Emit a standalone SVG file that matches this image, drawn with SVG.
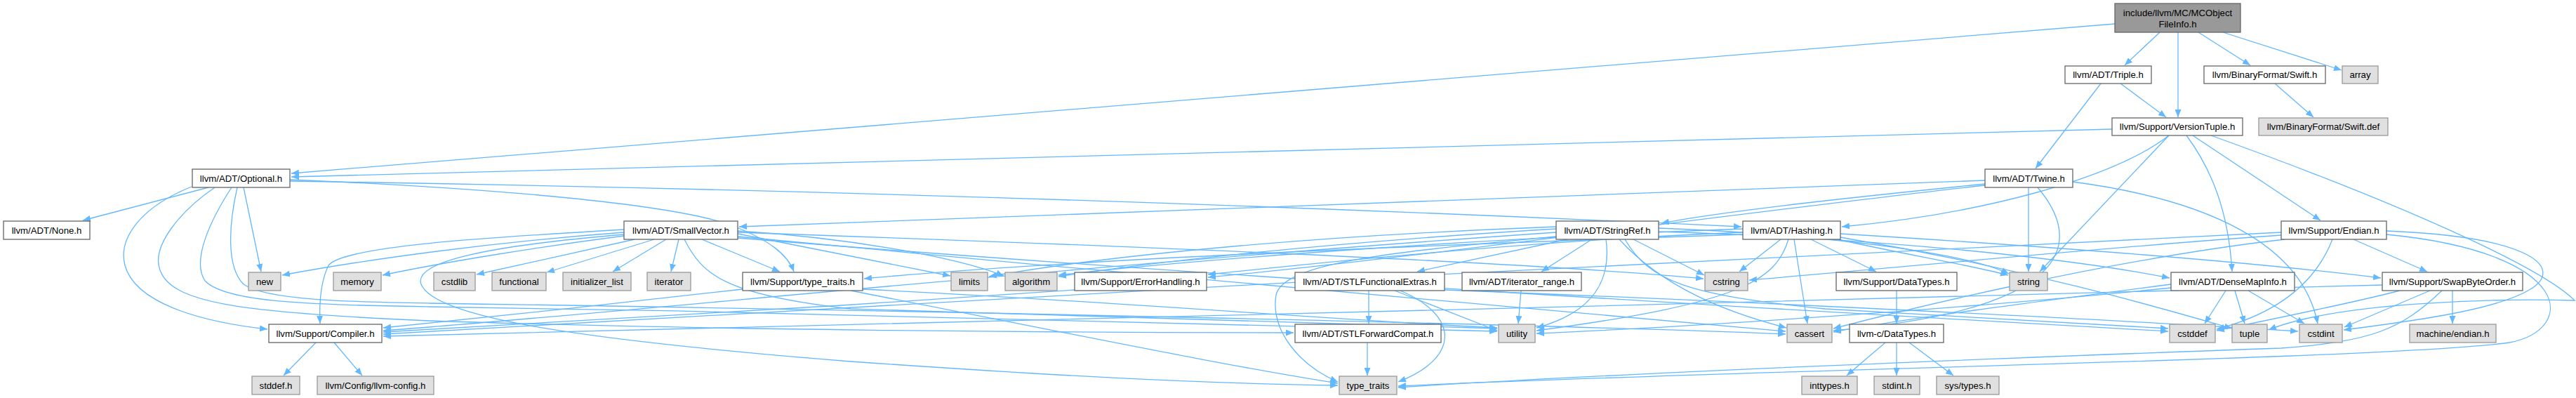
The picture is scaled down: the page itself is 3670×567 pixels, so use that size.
<svg xmlns="http://www.w3.org/2000/svg" width="3670" height="567" viewBox="0 0 3670 567">
<defs>
<style>
.n{fill:#ffffff;stroke:#666666;stroke-width:1.3}
.g{fill:#e0e0e0;stroke:#999999;stroke-width:1.3}
.r{fill:#999999;stroke:#666666;stroke-width:1.3}
text{font-family:"Liberation Sans",Arial,sans-serif;font-size:13.2px;fill:#000;text-anchor:middle}
#edges path{fill:none;stroke:#63b8ff;stroke-width:1.3;marker-end:url(#ah)}
</style>
<marker id="ah" markerWidth="12" markerHeight="9" refX="11" refY="4.5" orient="auto" markerUnits="userSpaceOnUse">
<path d="M0,0 L11,4.5 L0,9 z" fill="#63b8ff"/>
</marker>
</defs>
<rect width="3670" height="567" fill="#ffffff"/>
<g id="edges">
<path d="M3013,34 L415,247"/>
<path d="M3077,46 L3027,93"/>
<path d="M3103,46 L3103,167"/>
<path d="M3132,46 L3206,93"/>
<path d="M3167,46 L3336,100"/>
<path d="M3021,119 L3086,167"/>
<path d="M2993,119 L2900,240"/>
<path d="M3241,119 L3296,167"/>
<path d="M3009,184 L415,252"/>
<path d="M3090,193 C3010,255 2820,305 2624,323"/>
<path d="M3090,193 L2906,387"/>
<path d="M3115,193 C3150,240 3175,300 3180,387"/>
<path d="M3124,193 L3306,314"/>
<path d="M3150,193 C3420,290 3620,380 3668,428 C3560,425 3330,430 3232,470"/>
<path d="M297,267 L118,314"/>
<path d="M273,266 C200,295 168,340 178,378 C192,430 280,458 381,469"/>
<path d="M306,267 C258,300 215,350 228,385 C245,430 330,445 612,457 C1000,470 1500,474 1843,474"/>
<path d="M330,267 C302,310 272,370 292,400 C322,432 450,434 612,437 C1200,446 1900,462 2133,472"/>
<path d="M338,267 C326,320 322,380 347,405 C380,428 500,430 612,432 C1300,442 2200,462 2544,476"/>
<path d="M347,267 L372,387"/>
<path d="M413,256 C700,268 960,290 1045,322 C1095,342 1122,362 1131,387"/>
<path d="M413,258 C1200,270 1900,296 2481,323"/>
<path d="M2828,257 C2100,280 1500,305 1053,323"/>
<path d="M2828,262 C2650,280 2460,300 2367,318"/>
<path d="M2828,264 C2500,300 2000,370 1721,395"/>
<path d="M2903,267 C2965,340 2965,440 2612,471"/>
<path d="M2890,267 L2890,387"/>
<path d="M2953,259 C3150,285 3280,350 3302,461"/>
<path d="M889,331 C700,345 520,370 402,392"/>
<path d="M889,336 C780,350 640,372 545,392"/>
<path d="M889,327 C700,338 490,350 468,378 C455,405 455,440 456,461"/>
<path d="M904,341 L679,391"/>
<path d="M932,341 L779,388"/>
<path d="M949,341 L873,387"/>
<path d="M967,341 L956,387"/>
<path d="M1000,341 L1111,387"/>
<path d="M889,334 C700,350 588,372 600,405 C618,450 800,482 1212,515 C1500,535 1700,546 1906,549"/>
<path d="M1051,333 L1354,393"/>
<path d="M1051,329 C1200,338 1360,365 1430,393"/>
<path d="M1051,337 C1600,390 2300,450 2544,472"/>
<path d="M1051,339 C1800,400 2700,450 3089,472"/>
<path d="M1051,331 C1600,350 2200,375 2427,397"/>
<path d="M975,341 C1000,390 1030,420 1212,440 C1700,455 2000,465 2133,468"/>
<path d="M2363,330 C2700,340 2960,370 3091,396"/>
<path d="M2233,341 L2019,387"/>
<path d="M2268,341 L2196,387"/>
<path d="M2217,331 C1500,380 900,445 546,471"/>
<path d="M2217,326 C1900,345 1650,372 1508,394"/>
<path d="M2217,323 C1900,335 1600,360 1409,394"/>
<path d="M2307,341 C2370,410 2460,445 2545,467"/>
<path d="M2315,341 C2350,400 2400,420 2600,440 C2850,455 3000,462 3089,468"/>
<path d="M2327,341 L2428,392"/>
<path d="M2363,325 C2600,334 2800,360 2862,390"/>
<path d="M2217,337 C2000,358 1830,372 1818,420 C1810,470 1850,520 1906,544"/>
<path d="M2288,341 C2296,400 2270,445 2189,467"/>
<path d="M2580,341 L2673,387"/>
<path d="M2483,331 C2200,342 1900,372 1721,391"/>
<path d="M2622,333 C2900,350 3200,372 3392,396"/>
<path d="M2483,334 C2000,350 1500,372 1231,397"/>
<path d="M2483,326 C2100,340 1700,370 1508,392"/>
<path d="M2556,341 L2575,461"/>
<path d="M2537,341 L2478,387"/>
<path d="M2619,341 C2700,360 2800,376 2861,392"/>
<path d="M2622,338 C2900,385 3100,445 3180,468"/>
<path d="M2548,341 C2530,400 2480,432 2189,471"/>
<path d="M3250,331 C2500,365 1200,435 546,476"/>
<path d="M3353,341 L3458,387"/>
<path d="M3255,341 C3000,370 2700,445 2612,468"/>
<path d="M3323,341 C3300,400 3250,445 3158,469"/>
<path d="M3400,329 C3620,338 3650,385 3605,412 C3560,440 3450,456 3339,470"/>
<path d="M3250,335 C3000,352 2700,382 2492,399"/>
<path d="M3400,334 C3670,360 3672,470 3575,488 C3400,512 2500,526 1992,550"/>
<path d="M3171,414 L3141,461"/>
<path d="M3184,414 L3198,461"/>
<path d="M3203,414 L3283,461"/>
<path d="M3093,405 C2900,430 2700,456 2612,473"/>
<path d="M3093,410 C2800,440 2400,466 2189,475"/>
<path d="M3394,406 C2500,432 1200,462 546,479"/>
<path d="M3419,414 C3350,432 3250,452 3158,471"/>
<path d="M3462,414 L3340,466"/>
<path d="M3494,414 L3494,461"/>
<path d="M3479,414 C3420,470 3380,486 3250,496 C2800,512 2300,532 1992,552"/>
<path d="M450,488 L404,535"/>
<path d="M476,488 L516,535"/>
<path d="M1950,414 L1950,461"/>
<path d="M1987,414 L2133,471"/>
<path d="M1995,414 C2080,450 2080,510 1992,544"/>
<path d="M2058,413 C2500,430 3000,455 3274,472"/>
<path d="M1948,488 L1948,535"/>
<path d="M2167,414 L2163,461"/>
<path d="M2702,414 L2702,461"/>
<path d="M2686,488 L2631,535"/>
<path d="M2702,488 L2702,535"/>
<path d="M2720,488 L2783,535"/>
<path d="M1531,413 C1200,436 800,460 546,473"/>
<path d="M1058,412 C900,430 700,452 546,467"/>
<path d="M1212,414 C1500,470 1750,522 1906,546"/>
<path d="M1229,412 C1600,430 1900,456 2133,467"/>
</g>
<g id="root"><rect class="r" x="3013" y="5" width="179" height="41"/><text x="3102.5" y="23">include/llvm/MC/MCObject</text><text x="3102.5" y="39">FileInfo.h</text></g>
<g id="triple"><rect class="n" x="2942" y="94" width="123" height="25"/><text x="3003.5" y="111">llvm/ADT/Triple.h</text></g>
<g id="swift_h"><rect class="n" x="3140" y="94" width="173" height="25"/><text x="3226.5" y="111">llvm/BinaryFormat/Swift.h</text></g>
<g id="array"><rect class="g" x="3337" y="94" width="51" height="25"/><text x="3362.5" y="111">array</text></g>
<g id="versiontuple"><rect class="n" x="3009" y="168" width="186" height="25"/><text x="3102" y="185">llvm/Support/VersionTuple.h</text></g>
<g id="swift_def"><rect class="g" x="3218" y="168" width="184" height="25"/><text x="3310" y="185">llvm/BinaryFormat/Swift.def</text></g>
<g id="optional"><rect class="n" x="274" y="241" width="139" height="26"/><text x="343.5" y="258.6">llvm/ADT/Optional.h</text></g>
<g id="twine"><rect class="n" x="2828" y="241" width="125" height="26"/><text x="2890.5" y="258.6">llvm/ADT/Twine.h</text></g>
<g id="none"><rect class="n" x="5" y="315" width="123" height="26"/><text x="66.5" y="332.6">llvm/ADT/None.h</text></g>
<g id="smallvector"><rect class="n" x="889" y="315" width="162" height="26"/><text x="970" y="332.6">llvm/ADT/SmallVector.h</text></g>
<g id="stringref"><rect class="n" x="2217" y="315" width="146" height="26"/><text x="2290" y="332.6">llvm/ADT/StringRef.h</text></g>
<g id="hashing"><rect class="n" x="2483" y="315" width="139" height="26"/><text x="2552.5" y="332.6">llvm/ADT/Hashing.h</text></g>
<g id="endian"><rect class="n" x="3250" y="315" width="150" height="26"/><text x="3325" y="332.6">llvm/Support/Endian.h</text></g>
<g id="new"><rect class="g" x="354" y="388" width="46" height="26"/><text x="377" y="405.6">new</text></g>
<g id="memory"><rect class="g" x="475" y="388" width="68" height="26"/><text x="509" y="405.6">memory</text></g>
<g id="cstdlib"><rect class="g" x="618" y="388" width="59" height="26"/><text x="647.5" y="405.6">cstdlib</text></g>
<g id="functional"><rect class="g" x="701" y="388" width="77" height="26"/><text x="739.5" y="405.6">functional</text></g>
<g id="initializer_list"><rect class="g" x="802" y="388" width="97" height="26"/><text x="850.5" y="405.6">initializer_list</text></g>
<g id="iterator"><rect class="g" x="922" y="388" width="62" height="26"/><text x="953" y="405.6">iterator</text></g>
<g id="type_traits_h"><rect class="n" x="1058" y="388" width="171" height="26"/><text x="1143.5" y="405.6">llvm/Support/type_traits.h</text></g>
<g id="limits"><rect class="g" x="1355" y="388" width="52" height="26"/><text x="1381" y="405.6">limits</text></g>
<g id="algorithm"><rect class="g" x="1432" y="388" width="74" height="26"/><text x="1469" y="405.6">algorithm</text></g>
<g id="errorhandling"><rect class="n" x="1531" y="388" width="188" height="26"/><text x="1625" y="405.6">llvm/Support/ErrorHandling.h</text></g>
<g id="stlfunctionalextras"><rect class="n" x="1845" y="388" width="213" height="26"/><text x="1951.5" y="405.6">llvm/ADT/STLFunctionalExtras.h</text></g>
<g id="iterator_range"><rect class="n" x="2083" y="388" width="170" height="26"/><text x="2168" y="405.6">llvm/ADT/iterator_range.h</text></g>
<g id="cstring"><rect class="g" x="2429" y="388" width="61" height="26"/><text x="2459.5" y="405.6">cstring</text></g>
<g id="support_datatypes"><rect class="n" x="2616" y="388" width="172" height="26"/><text x="2702" y="405.6">llvm/Support/DataTypes.h</text></g>
<g id="string"><rect class="g" x="2863" y="388" width="54" height="26"/><text x="2890" y="405.6">string</text></g>
<g id="densemapinfo"><rect class="n" x="3093" y="388" width="176" height="26"/><text x="3181" y="405.6">llvm/ADT/DenseMapInfo.h</text></g>
<g id="swapbyteorder"><rect class="n" x="3394" y="388" width="200" height="26"/><text x="3494" y="405.6">llvm/Support/SwapByteOrder.h</text></g>
<g id="compiler"><rect class="n" x="383" y="462" width="161" height="26"/><text x="463.5" y="479.6">llvm/Support/Compiler.h</text></g>
<g id="stlforwardcompat"><rect class="n" x="1845" y="462" width="208" height="26"/><text x="1949" y="479.6">llvm/ADT/STLForwardCompat.h</text></g>
<g id="utility"><rect class="g" x="2135" y="462" width="52" height="26"/><text x="2161" y="479.6">utility</text></g>
<g id="cassert"><rect class="g" x="2546" y="462" width="64" height="26"/><text x="2578" y="479.6">cassert</text></g>
<g id="c_datatypes"><rect class="n" x="2635" y="462" width="134" height="26"/><text x="2702" y="479.6">llvm-c/DataTypes.h</text></g>
<g id="cstddef"><rect class="g" x="3091" y="462" width="65" height="26"/><text x="3123.5" y="479.6">cstddef</text></g>
<g id="tuple"><rect class="g" x="3180" y="462" width="50" height="26"/><text x="3205" y="479.6">tuple</text></g>
<g id="cstdint"><rect class="g" x="3276" y="462" width="61" height="26"/><text x="3306.5" y="479.6">cstdint</text></g>
<g id="machine_endian"><rect class="g" x="3433" y="462" width="123" height="26"/><text x="3494.5" y="479.6">machine/endian.h</text></g>
<g id="stddef"><rect class="g" x="359" y="536" width="68" height="26"/><text x="393" y="553.6">stddef.h</text></g>
<g id="llvm_config"><rect class="g" x="452" y="536" width="166" height="26"/><text x="535" y="553.6">llvm/Config/llvm-config.h</text></g>
<g id="type_traits"><rect class="g" x="1908" y="536" width="82" height="26"/><text x="1949" y="553.6">type_traits</text></g>
<g id="inttypes"><rect class="g" x="2567" y="536" width="79" height="26"/><text x="2606.5" y="553.6">inttypes.h</text></g>
<g id="stdint"><rect class="g" x="2670" y="536" width="65" height="26"/><text x="2702.5" y="553.6">stdint.h</text></g>
<g id="sys_types"><rect class="g" x="2759" y="536" width="89" height="26"/><text x="2803.5" y="553.6">sys/types.h</text></g>
</svg>
